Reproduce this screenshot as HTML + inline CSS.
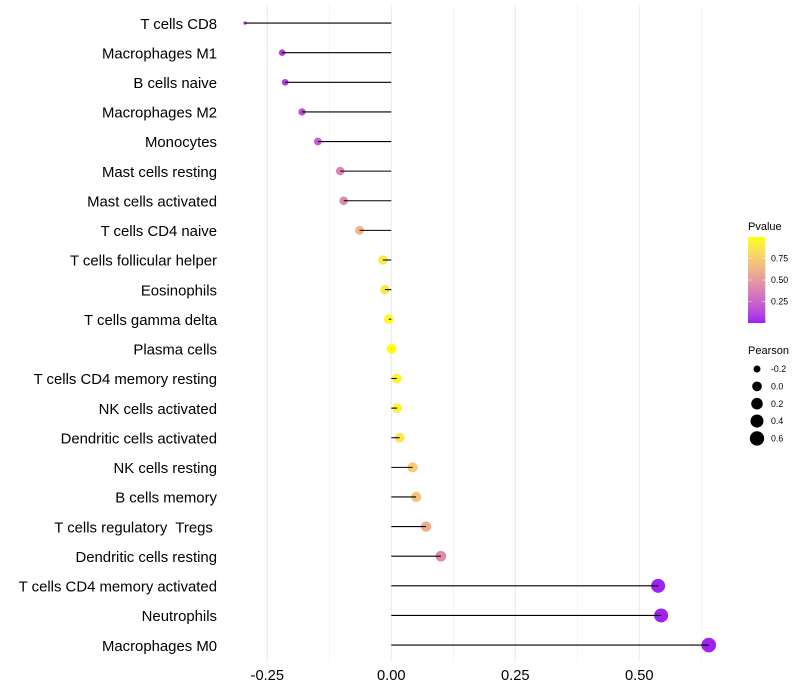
<!DOCTYPE html>
<html lang="en">
<head>
<meta charset="utf-8">
<title>Lollipop chart of immune cell correlation</title>
<style>
html,body{margin:0;padding:0;background:#fff;}
#chart{display:block;width:800px;height:700px;font-family:"Liberation Sans",sans-serif;}
text{font-family:"Liberation Sans",sans-serif;white-space:pre;}
</style>
</head>
<body>
<svg id="chart" xmlns="http://www.w3.org/2000/svg" width="800" height="700" viewBox="0 0 800 700">
<defs><linearGradient id="pvalue-gradient" x1="0" y1="1" x2="0" y2="0"></linearGradient></defs>
</svg>
<script>
const categories = ["T cells CD8","Macrophages M1","B cells naive","Macrophages M2","Monocytes","Mast cells resting","Mast cells activated","T cells CD4 naive","T cells follicular helper","Eosinophils","T cells gamma delta","Plasma cells","T cells CD4 memory resting","NK cells activated","Dendritic cells activated","NK cells resting","B cells memory","T cells regulatory  Tregs ","Dendritic cells resting","T cells CD4 memory activated","Neutrophils","Macrophages M0"];
const pearsonValues = [-0.295,-0.22,-0.214,-0.18,-0.148,-0.103,-0.096,-0.064,-0.017,-0.013,-0.005,0.0005,0.011,0.012,0.017,0.043,0.05,0.07,0.1,0.538,0.544,0.64];
const pValues = [0.08,0.08,0.09,0.15,0.22,0.4,0.42,0.64,0.89,0.89,0.97,1,0.95,0.94,0.88,0.74,0.71,0.6,0.43,0.005,0.005,0.005];
const xTicks = [-0.25,0,0.25,0.5];
const xTickLabels = ["-0.25","0.00","0.25","0.50"];
const xMinorTicks = [-0.125,0.125,0.375,0.625];
const pvalueLegendTicks = [0.25,0.5,0.75];
const pvalueLegendLabels = ["0.25","0.50","0.75"];
const pearsonLegendValues = [-0.2,0,0.2,0.4,0.6];
const pearsonLegendLabels = ["-0.2","0.0","0.2","0.4","0.6"];

const svg = document.getElementById('chart');
const NS = 'http://www.w3.org/2000/svg';
function make(tag, attrs, text) {
  const el = document.createElementNS(NS, tag);
  for (const k in attrs) el.setAttribute(k, attrs[k]);
  if (text !== undefined) el.textContent = text;
  return el;
}

/* axis functions */
function xScale(v) { return 391.3 + 496 * v; }
function yScale(i) { return 23.05 + 29.62 * i; }
const pMin = Math.min(...pearsonValues), pMax = Math.max(...pearsonValues);
function rScale(v) {
  const t = Math.max(0, (v - pMin) / (pMax - pMin));
  return 1.7 + 5.6 * Math.sqrt(t);
}
function legendY(p) { return 323 - 86 * p; }

/* purple to yellow through Lab space */
function toLab(c) {
  const l = c.map(v => { v /= 255; return v > 0.04045 ? Math.pow((v + 0.055) / 1.055, 2.4) : v / 12.92; });
  const X = (0.4124 * l[0] + 0.3576 * l[1] + 0.1805 * l[2]) / 0.95047;
  const Y = 0.2126 * l[0] + 0.7152 * l[1] + 0.0722 * l[2];
  const Z = (0.0193 * l[0] + 0.1192 * l[1] + 0.9505 * l[2]) / 1.08883;
  const f = t => t > 0.008856 ? Math.cbrt(t) : 7.787 * t + 16 / 116;
  return [116 * f(Y) - 16, 500 * (f(X) - f(Y)), 200 * (f(Y) - f(Z))];
}
function fromLab(L) {
  const fy = (L[0] + 16) / 116, fx = fy + L[1] / 500, fz = fy - L[2] / 200;
  const g = t => t * t * t > 0.008856 ? t * t * t : (t - 16 / 116) / 7.787;
  const X = g(fx) * 0.95047, Y = g(fy), Z = g(fz) * 1.08883;
  const r = 3.2406 * X - 1.5372 * Y - 0.4986 * Z;
  const gg = -0.9689 * X + 1.8758 * Y + 0.0415 * Z;
  const b = 0.0557 * X - 0.204 * Y + 1.057 * Z;
  const s = v => {
    v = Math.min(1, Math.max(0, v));
    v = v > 0.0031308 ? 1.055 * Math.pow(v, 1 / 2.4) - 0.055 : 12.92 * v;
    return Math.round(v * 255);
  };
  return 'rgb(' + s(r) + ',' + s(gg) + ',' + s(b) + ')';
}
const labLow = toLab([160, 32, 240]);
const labHigh = toLab([255, 255, 0]);
function colorScale(p) {
  return fromLab(labLow.map((v, i) => v + (labHigh[i] - v) * p));
}

/* grid */
xMinorTicks.forEach(function (t) {
  const g = make('line', {x1: xScale(t), x2: xScale(t), y1: 5, y2: 662, stroke: '#ebebeb', 'stroke-width': 0.55});
  
  
  svg.appendChild(g);
});
xTicks.forEach(function (t, i) {
  const g = make('line', {x1: xScale(t), x2: xScale(t), y1: 5, y2: 662, stroke: '#ebebeb', 'stroke-width': 1.07});
  
  
  svg.appendChild(g);
  const lab = make('text', {x: xScale(t), y: 680, 'text-anchor': 'middle', 'font-size': 14.7, fill: '#000'}, xTickLabels[i]);
  
  
  svg.appendChild(lab);
});

/* category labels, points, then stems on top */
categories.forEach(function (c, i) {
  const lab = make('text', {x: 217, y: yScale(i) + 5.7, 'text-anchor': 'end', 'font-size': 14.9, fill: '#000'}, c);
  
  
  svg.appendChild(lab);
});
pearsonValues.forEach(function (v, i) {
  const dot = make('circle', {cx: xScale(v), cy: yScale(i), r: rScale(v), fill: colorScale(pValues[i])});
  
  
  svg.appendChild(dot);
});
pearsonValues.forEach(function (v, i) {
  const stem = make('line', {x1: xScale(0), x2: xScale(v), y1: yScale(i), y2: yScale(i), stroke: '#000', 'stroke-width': 1.07});
  
  
  svg.appendChild(stem);
});

/* Pvalue legend */
const grad = document.getElementById('pvalue-gradient');
for (let k = 0; k <= 20; k++) {
  grad.appendChild(make('stop', {offset: k / 20, 'stop-color': colorScale(k / 20)}));
}
const pvTitle = make('text', {x: 748, y: 230, 'font-size': 11, fill: '#000'}, 'Pvalue');


svg.appendChild(pvTitle);
const bar = make('rect', {x: 748, y: legendY(1), width: 17.3, height: 86, fill: 'url(#pvalue-gradient)'});


svg.appendChild(bar);
pvalueLegendTicks.forEach(function (p, i) {
  const y = legendY(p);
  const t1 = make('line', {x1: 748, x2: 751.5, y1: y, y2: y, stroke: '#fff', 'stroke-width': 0.6, 'stroke-opacity': 0.8});
  
  
  svg.appendChild(t1);
  const t2 = make('line', {x1: 761.8, x2: 765.3, y1: y, y2: y, stroke: '#fff', 'stroke-width': 0.6, 'stroke-opacity': 0.8});
  
  
  svg.appendChild(t2);
  const lab = make('text', {x: 771, y: y + 3.1, 'font-size': 8.8, fill: '#000'}, pvalueLegendLabels[i]);
  
  
  svg.appendChild(lab);
});

/* Pearson legend */
const prTitle = make('text', {x: 748, y: 354, 'font-size': 11, fill: '#000'}, 'Pearson');


svg.appendChild(prTitle);
pearsonLegendValues.forEach(function (v, i) {
  const y = 369 + 17.35 * i;
  const key = make('circle', {cx: 757, cy: y, r: rScale(v), fill: '#000'});
  
  
  svg.appendChild(key);
  const lab = make('text', {x: 771, y: y + 3.1, 'font-size': 8.8, fill: '#000'}, pearsonLegendLabels[i]);
  
  
  svg.appendChild(lab);
});
</script>
</body>
</html>
